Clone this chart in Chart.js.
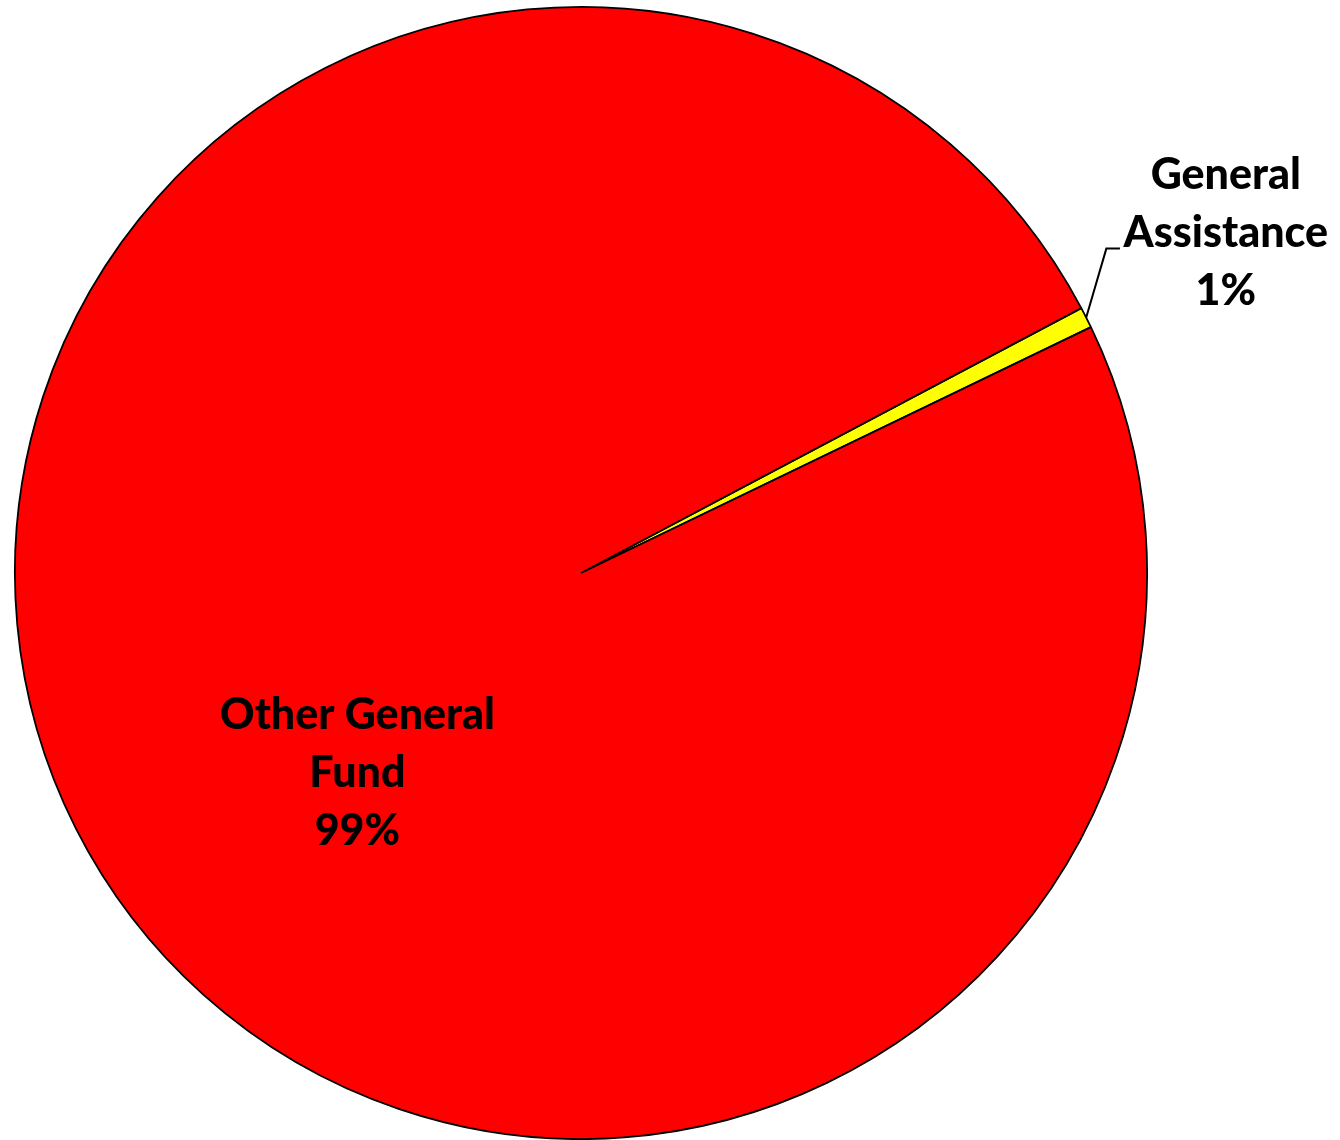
<!DOCTYPE html>
<html>
<head>
<meta charset="utf-8">
<script src="https://cdn.jsdelivr.net/npm/chart.js@4.4.0/dist/chart.umd.min.js"></script>
<style>
  html, body { margin: 0; padding: 0; background: #ffffff; }
  #wrap { width: 1340px; height: 1140px; }
</style>
</head>
<body>
<div id="wrap"><canvas id="c" width="1340" height="1140"></canvas></div>
<script>
// ---- data ----
const categories = ["General Assistance", "Other General Fund"];
const values = [0.6, 99.4];
const percentLabels = ["1%", "99%"];
const labelLines = [["General", "Assistance"], ["Other General", "Fund"]];
const sliceColors = ["#FFFF00", "#FF0000"];

// label placement relative to pie centre, in units of radius
const labelPlacement = [
  { fx: 1.139, fy: -0.600, leader: [[0.928, -0.573], [0.952, -0.573]] },
  { fx: -0.395, fy: 0.353, leader: null }
];

const labelPlugin = {
  id: 'sliceLabels',
  afterDatasetsDraw(chart) {
    const ctx = chart.ctx;
    const meta = chart.getDatasetMeta(0);
    meta.data.forEach((arc, i) => {
      const p = arc.getProps(['x', 'y', 'outerRadius', 'startAngle', 'endAngle'], true);
      const r = p.outerRadius;
      const pl = labelPlacement[i];
      if (pl.leader) {
        const mid = (p.startAngle + p.endAngle) / 2;
        ctx.save();
        ctx.strokeStyle = '#000';
        ctx.lineWidth = 2;
        ctx.beginPath();
        ctx.moveTo(p.x + Math.cos(mid) * r, p.y + Math.sin(mid) * r);
        pl.leader.forEach(pt => ctx.lineTo(p.x + pt[0] * r, p.y + pt[1] * r));
        ctx.stroke();
        ctx.restore();
      }
      const lines = labelLines[i].concat([percentLabels[i]]);
      const cx = p.x + pl.fx * r;
      const cy = p.y + pl.fy * r;
      const lh = 58;
      ctx.save();
      ctx.fillStyle = '#000';
      ctx.font = '900 43px Lato';
      ctx.textAlign = 'center';
      ctx.textBaseline = 'middle';
      lines.forEach((t, k) => {
        ctx.fillText(t, cx, cy + (k - (lines.length - 1) / 2) * lh);
      });
      ctx.restore();
    });
  }
};

new Chart(document.getElementById('c'), {
  type: 'pie',
  data: {
    labels: categories,
    datasets: [{
      data: values,
      backgroundColor: sliceColors,
      borderColor: '#000000',
      borderWidth: 1.8
    }]
  },
  options: {
    responsive: false,
    animation: false,
    devicePixelRatio: 1,
    rotation: 62.1,
    layout: { padding: { left: 14, right: 192, top: 6, bottom: 0 } },
    plugins: {
      legend: { display: false },
      tooltip: { enabled: false }
    }
  },
  plugins: [labelPlugin]
});
</script>
</body>
</html>
